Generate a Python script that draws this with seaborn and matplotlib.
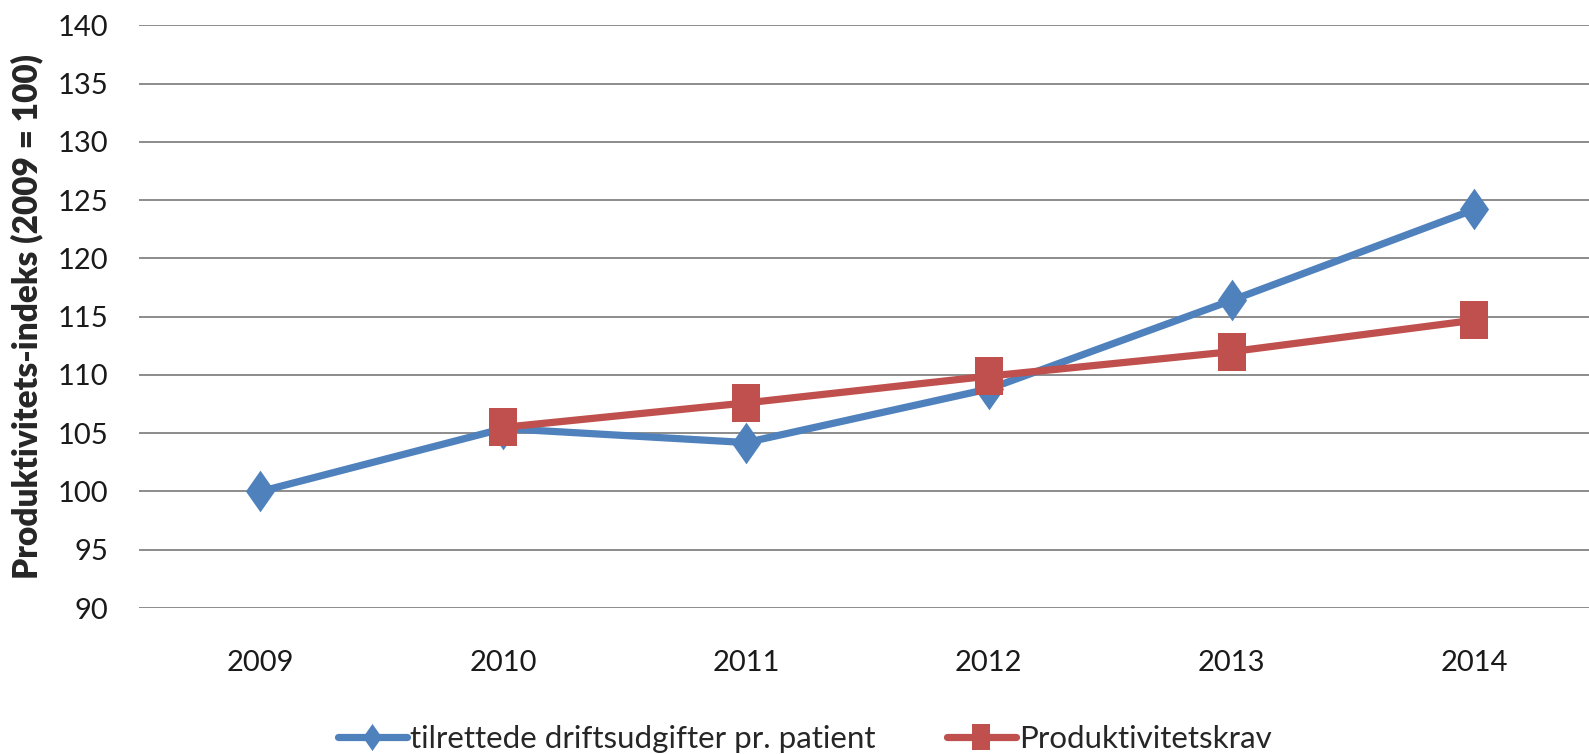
import numpy as np
import pandas as pd
import matplotlib
matplotlib.use("Agg")
import matplotlib.pyplot as plt
import seaborn as sns

# data
years = ["2009", "2010", "2011", "2012", "2013", "2014"]
driftsudgifter = [100.0, 105.4, 104.2, 108.8, 116.4, 124.2]
produktivitetskrav = [np.nan, 105.5, 107.6, 109.9, 112.0, 114.7]
label_blue = "tilrettede driftsudgifter pr. patient"
label_red = "Produktivitetskrav"
yticks = [90, 95, 100, 105, 110, 115, 120, 125, 130, 135, 140]

BLUE = "#4F81BD"
RED = "#C0504D"

sns.set_style("white")
plt.rcParams["font.family"] = ["Lato", "DejaVu Sans"]

df = pd.DataFrame({"år": years, "blue": driftsudgifter, "red": produktivitetskrav})

# tall diamond / tall square, the original is stretched vertically
diamond = [(0, 1), (0.7, 0), (0, -1), (-0.7, 0), (0, 1)]
square = [(-0.7, -1), (0.7, -1), (0.7, 1), (-0.7, 1), (-0.7, -1)]

fig = plt.figure(figsize=(15.89, 7.54), dpi=100)
ax = fig.add_axes([0.0875, 0.1936, 0.9168, 0.7728])

sns.lineplot(data=df, x="år", y="blue", ax=ax, color=BLUE, linewidth=5.2,
             marker=diamond, markersize=30, markeredgewidth=0,
             markerfacecolor=BLUE, label=label_blue, zorder=3)
sns.lineplot(data=df.dropna(), x="år", y="red", ax=ax, color=RED, linewidth=5.2,
             marker=square, markersize=28, markeredgewidth=0,
             markerfacecolor=RED, label=label_red, zorder=4)

ax.set_xlim(-0.5, len(years) - 0.5)
ax.set_ylim(90, 140)
ax.set_yticks(yticks)
ax.yaxis.grid(True, color="#8c8c8c", linewidth=1.4)
ax.xaxis.grid(False)
for s in ax.spines.values():
    s.set_visible(False)
ax.tick_params(axis="both", length=0, labelsize=21, colors="#1a1a1a")
ax.tick_params(axis="y", pad=22)
ax.tick_params(axis="x", pad=30)
ax.set_xlabel("")
ax.set_ylabel("Produktivitets-indeks (2009 = 100)", fontsize=24, fontweight="heavy")
ax.yaxis.set_label_coords(-0.066, 0.5)

ax.legend(loc="center", bbox_to_anchor=(0.457, -0.225), ncol=2, frameon=False,
          fontsize=22.5, markerscale=0.65, handlelength=2.2, handletextpad=0.1,
          columnspacing=2.3)

fig.savefig("out.png", dpi=100)
